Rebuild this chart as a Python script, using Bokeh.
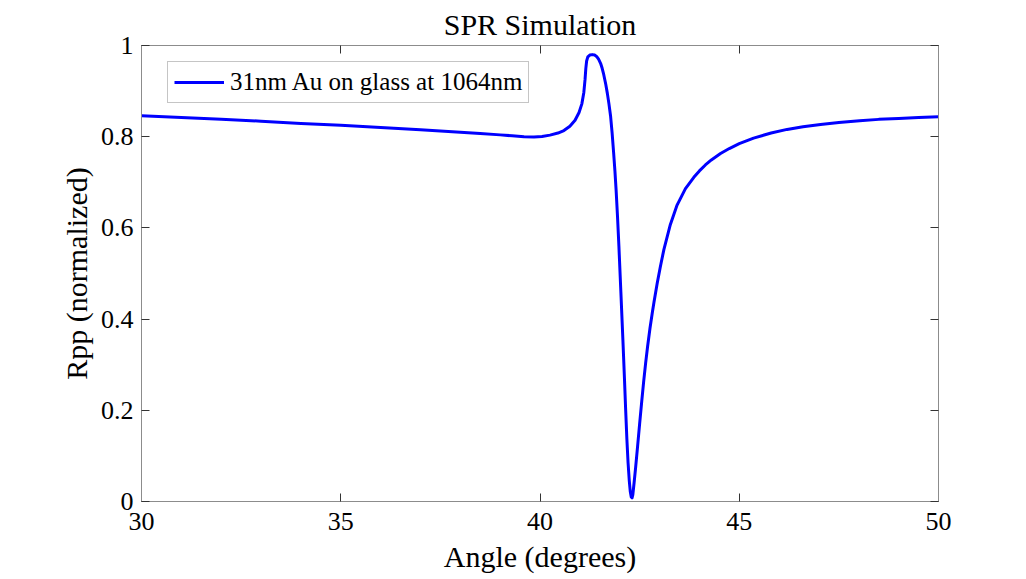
from bokeh.plotting import figure
from bokeh.models import Range1d, FixedTicker, LinearAxis, Legend, LegendItem
from bokeh.embed import file_html
from bokeh.resources import INLINE

# ---- data ----
angle = [30.00, 31.00, 32.00, 33.00, 34.00, 35.00, 36.00, 37.00, 38.00, 38.50,
         39.00, 39.30, 39.60, 39.85, 40.05, 40.25, 40.45, 40.60, 40.75, 40.88,
         40.98, 41.05, 41.10, 41.13, 41.15, 41.17, 41.20, 41.25, 41.31, 41.37,
         41.42, 41.47, 41.52, 41.56, 41.60, 41.65, 41.69, 41.73, 41.77, 41.81,
         41.85, 41.88, 41.91, 41.945, 41.98, 42.03, 42.08, 42.12, 42.15, 42.18,
         42.21, 42.24, 42.265, 42.29, 42.31, 42.33, 42.36, 42.40, 42.45, 42.50,
         42.55, 42.60, 42.65, 42.70, 42.76, 42.82, 42.86, 42.94, 43.02, 43.11,
         43.27, 43.44, 43.65, 43.86, 44.00, 44.15, 44.30, 44.53, 44.75, 45.00,
         45.36, 45.80, 46.20, 46.60, 47.04, 47.50, 48.02, 48.50, 49.00, 49.50,
         50.00]
rpp = [0.846, 0.842, 0.838, 0.834, 0.829, 0.825, 0.820, 0.815, 0.810, 0.807,
       0.804, 0.802, 0.800, 0.7995, 0.8005, 0.8035, 0.808, 0.8135, 0.823, 0.836,
       0.853, 0.872, 0.897, 0.925, 0.950, 0.966, 0.975, 0.979, 0.980, 0.979,
       0.976, 0.970, 0.961, 0.950, 0.936, 0.915, 0.895, 0.872, 0.846, 0.808,
       0.762, 0.725, 0.683, 0.625, 0.560, 0.458, 0.355, 0.268, 0.200, 0.137,
       0.085, 0.046, 0.022, 0.010, 0.008, 0.015, 0.040, 0.075, 0.122, 0.170,
       0.217, 0.262, 0.303, 0.340, 0.380, 0.415, 0.437, 0.478, 0.515, 0.553,
       0.607, 0.650, 0.686, 0.711, 0.725, 0.738, 0.749, 0.763, 0.774, 0.785,
       0.797, 0.808, 0.816, 0.822, 0.827, 0.831, 0.835, 0.838, 0.840, 0.842,
       0.844]

x_ticks = [30, 35, 40, 45, 50]
y_ticks = [0, 0.2, 0.4, 0.6, 0.8, 1.0]
y_tick_labels = ["0", "0.2", "0.4", "0.6", "0.8", "1"]
title_text = "SPR Simulation"
x_label_text = "Angle (degrees)"
y_label_text = "Rpp (normalized)"
legend_text = "31nm Au on glass at 1064nm"

FONT = "Liberation Serif"
BOX = "#8c8c8c"
TICK = "#333333"

p = figure(width=1010, height=579, output_backend="svg", toolbar_location=None,
           x_range=Range1d(30, 50), y_range=Range1d(0, 1),
           min_border_left=141, min_border_right=72,
           min_border_top=45, min_border_bottom=78)
p.xgrid.visible = False
p.ygrid.visible = False
p.outline_line_color = BOX
p.outline_line_width = 1
p.background_fill_color = "white"
p.border_fill_color = "white"

xa = p.xaxis[0]
ya = p.yaxis[0]
xa.ticker = FixedTicker(ticks=x_ticks)
ya.ticker = FixedTicker(ticks=y_ticks)
ya.major_label_overrides = {t: s for t, s in zip(y_ticks, y_tick_labels)}

top_axis = LinearAxis(ticker=FixedTicker(ticks=x_ticks))
right_axis = LinearAxis(ticker=FixedTicker(ticks=y_ticks))
p.add_layout(top_axis, "above")
p.add_layout(right_axis, "right")

for ax in [xa, ya, top_axis, right_axis]:
    ax.axis_line_color = BOX
    ax.axis_line_width = 1
    ax.major_tick_line_color = TICK
    ax.major_tick_line_width = 1
    ax.major_tick_in = 8
    ax.major_tick_out = 0
    ax.minor_tick_line_color = None
    ax.major_label_text_font = FONT
    ax.major_label_text_font_size = "26px"
    ax.major_label_text_color = "black"

for ax in [top_axis, right_axis]:
    ax.major_label_text_font_size = "1px"
    ax.major_label_text_color = None
    ax.major_label_standoff = 0

xa.major_label_standoff = 11
ya.major_label_standoff = 8

xa.axis_label = x_label_text
xa.axis_label_text_font = FONT
xa.axis_label_text_font_size = "30px"
xa.axis_label_text_font_style = "normal"
xa.axis_label_text_color = "black"
xa.axis_label_standoff = 7

ya.axis_label = y_label_text
ya.axis_label_text_font = FONT
ya.axis_label_text_font_size = "30px"
ya.axis_label_text_font_style = "normal"
ya.axis_label_text_color = "black"
ya.axis_label_standoff = 5

p.title.text = title_text
p.title.align = "center"
p.title.text_font = FONT
p.title.text_font_size = "30px"
p.title.text_font_style = "normal"
p.title.text_color = "black"
p.title.standoff = 10

r = p.line(x=angle, y=rpp, line_color="#0000ff", line_width=3, line_join="round")

legend = Legend(items=[LegendItem(label=legend_text, renderers=[r])],
                location=(26, 398), orientation="vertical",
                border_line_color=BOX, border_line_width=1,
                background_fill_color="white", background_fill_alpha=1.0,
                label_text_font=FONT, label_text_font_size="25px",
                label_text_color="black",
                glyph_width=50, glyph_height=22, label_height=22,
                padding=6, margin=0, label_standoff=6, spacing=0)
p.add_layout(legend)

open("out.html", "w").write(file_html(p, INLINE))
